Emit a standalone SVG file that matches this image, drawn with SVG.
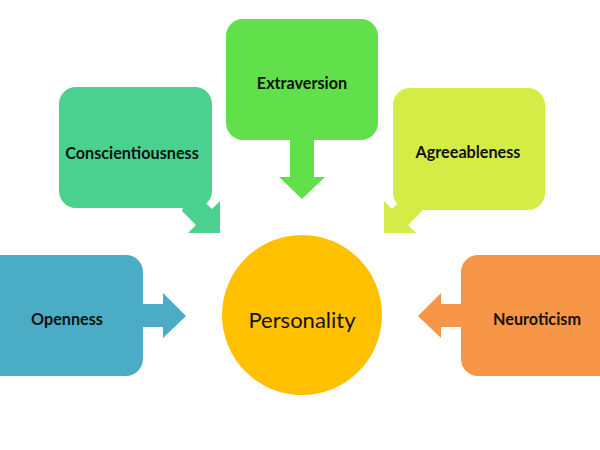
<svg xmlns="http://www.w3.org/2000/svg" width="600" height="450" viewBox="0 0 600 450">
<style>
.lbl{font-family:Lato,"Open Sans","Liberation Sans",sans-serif;font-weight:bold;font-size:16.2px;fill:#111;text-anchor:middle;dominant-baseline:central}
.main{font-family:Lato,"Open Sans","Liberation Sans",sans-serif;font-size:22px;fill:#111;text-anchor:middle;dominant-baseline:central}
</style>
<rect width="600" height="450" fill="#fff"/>
<g id="connectors">
<polygon fill="#4BACC6" points="130,304 163,304 163,293 186,316 163,338 163,327 130,327"/>
<polygon fill="#F79646" points="474,304 441,304 441,293 418,316 441,338 441,327 474,327"/>
<polygon fill="#62E04B" points="290,130 314,130 314,177 325,177 302,199 279,177 290,177"/>
<polygon fill="#4BD18F" points="190,187 182,211 196,225 188,233 220,233 220,201 212,209 198,195"/>
<polygon fill="#D4EC45" points="414,187 422,211 408,225 416,233 384,233 384,201 392,209 406,195"/>
</g>
<g id="openness"><rect x="-20" y="255" width="163" height="121" rx="17" fill="#4BACC6"/><text class="lbl" x="67" y="318">Openness</text></g>
<g id="conscientiousness"><rect x="59" y="87" width="153" height="121" rx="17" fill="#4BD18F"/><text class="lbl" x="132" y="152">Conscientiousness</text></g>
<g id="extraversion"><rect x="226" y="19" width="152" height="121" rx="17" fill="#62E04B"/><text class="lbl" x="302" y="82">Extraversion</text></g>
<g id="agreeableness"><rect x="393" y="88" width="152" height="122" rx="17" fill="#D4EC45"/><text class="lbl" x="468" y="151">Agreeableness</text></g>
<g id="neuroticism"><rect x="461" y="255" width="163" height="121" rx="17" fill="#F79646"/><text class="lbl" x="537" y="318">Neuroticism</text></g>
<g id="personality"><circle cx="302" cy="315" r="80" fill="#FFC000"/><text class="main" x="302" y="319">Personality</text></g>
</svg>
